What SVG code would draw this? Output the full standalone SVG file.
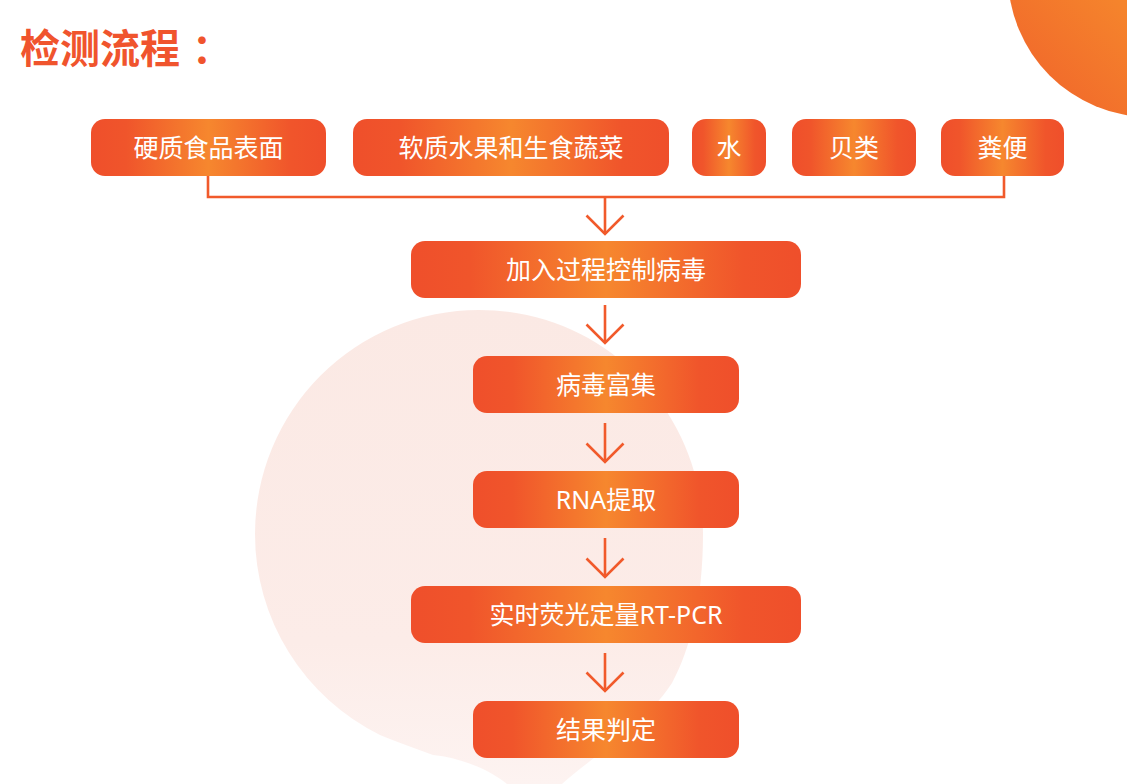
<svg xmlns="http://www.w3.org/2000/svg" width="1127" height="784" viewBox="0 0 1127 784">
  <defs>
    <linearGradient id="boxGrad" x1="0" y1="0" x2="1" y2="0">
      <stop offset="0" stop-color="#ef4f2b"/>
      <stop offset="0.15" stop-color="#f0552b"/>
      <stop offset="0.5" stop-color="#f6872e"/>
      <stop offset="0.85" stop-color="#f0552b"/>
      <stop offset="1" stop-color="#ef4f2b"/>
    </linearGradient>
    <linearGradient id="cornerGrad" x1="1" y1="0" x2="0" y2="1">
      <stop offset="0" stop-color="#f89a2a"/>
      <stop offset="0.6" stop-color="#f5842c"/>
      <stop offset="1" stop-color="#f0602b"/>
    </linearGradient>
    <linearGradient id="blobGrad" x1="0" y1="0" x2="0" y2="1">
      <stop offset="0" stop-color="#fbe9e4"/>
      <stop offset="0.7" stop-color="#fcece8"/>
      <stop offset="1" stop-color="#fdf3f1"/>
    </linearGradient>
    <marker id="chev" viewBox="0 0 22 40" refX="20" refY="20" markerWidth="22" markerHeight="40" markerUnits="userSpaceOnUse" orient="auto">
      <path d="M1.5 1.5 L20 20 L1.5 38.5" fill="none" stroke="#f15a2b" stroke-width="2.6"/>
    </marker>
    <style>
      .box { fill: url(#boxGrad); }
      .lbl { fill: #ffffff; font-family: "Noto Sans", "Noto Sans CJK SC", sans-serif; font-size: 25px; text-anchor: middle; }
      .conn { fill: none; stroke: #f15a2b; stroke-width: 2.6; }
      .arrow { fill: none; stroke: #f15a2b; stroke-width: 2.6; }
      .title { fill: #f0542d; font-family: "Noto Sans CJK SC", sans-serif; font-size: 40px; font-weight: bold; }
    </style>
  </defs>

  <rect width="1127" height="784" fill="#ffffff"/>

  <!-- background decorations -->
  <circle cx="1150" cy="-25" r="142" fill="url(#cornerGrad)"/>
  <path d="M479 310 C603 310 703 410 703 534 C703 600 690 650 672 683 C642 728 598 752 562 784 L507 784 C490 770 462 758 433 755 C415 748 396 742 380 735 A224 224 0 0 1 255 534 A224 224 0 0 1 479 310 Z" fill="url(#blobGrad)"/>

  <text class="title" x="20" y="63">检测流程<tspan dx="12">：</tspan></text>

  <!-- connectors -->
  <g id="connectors">
    <path class="conn" d="M208 176 V197 H1004 V176"/>
    <path class="arrow" d="M605 197 V234" marker-end="url(#chev)"/>
    <path class="arrow" d="M605 305 V343" marker-end="url(#chev)"/>
    <path class="arrow" d="M605 423 V462" marker-end="url(#chev)"/>
    <path class="arrow" d="M605 538 V577" marker-end="url(#chev)"/>
    <path class="arrow" d="M605 653 V691" marker-end="url(#chev)"/>
  </g>

  <!-- top row -->
  <g id="node-hard-surface">
    <rect class="box" x="91" y="119" width="235" height="57" rx="14"/>
    <text class="lbl" x="208.5" y="156.5">硬质食品表面</text>
  </g>
  <g id="node-soft-fruit">
    <rect class="box" x="353" y="119" width="316" height="57" rx="14"/>
    <text class="lbl" x="511" y="156.5">软质水果和生食蔬菜</text>
  </g>
  <g id="node-water">
    <rect class="box" x="692" y="119" width="74" height="57" rx="14"/>
    <text class="lbl" x="729" y="156.5">水</text>
  </g>
  <g id="node-shellfish">
    <rect class="box" x="792" y="119" width="124" height="57" rx="14"/>
    <text class="lbl" x="854" y="156.5">贝类</text>
  </g>
  <g id="node-feces">
    <rect class="box" x="941" y="119" width="123" height="57" rx="14"/>
    <text class="lbl" x="1002.5" y="156.5">粪便</text>
  </g>

  <!-- main flow -->
  <g id="node-control-virus">
    <rect class="box" x="411" y="241" width="390" height="57" rx="14"/>
    <text class="lbl" x="606" y="278.5">加入过程控制病毒</text>
  </g>
  <g id="node-enrichment">
    <rect class="box" x="473" y="356" width="266" height="57" rx="14"/>
    <text class="lbl" x="606" y="393.5">病毒富集</text>
  </g>
  <g id="node-rna">
    <rect class="box" x="473" y="471" width="266" height="57" rx="14"/>
    <text class="lbl" x="606" y="508.5">RNA提取</text>
  </g>
  <g id="node-rtpcr">
    <rect class="box" x="411" y="586" width="390" height="57" rx="14"/>
    <text class="lbl" x="606" y="623.5">实时荧光定量RT-PCR</text>
  </g>
  <g id="node-result">
    <rect class="box" x="473" y="701" width="266" height="57" rx="14"/>
    <text class="lbl" x="606" y="738.5">结果判定</text>
  </g>
</svg>
